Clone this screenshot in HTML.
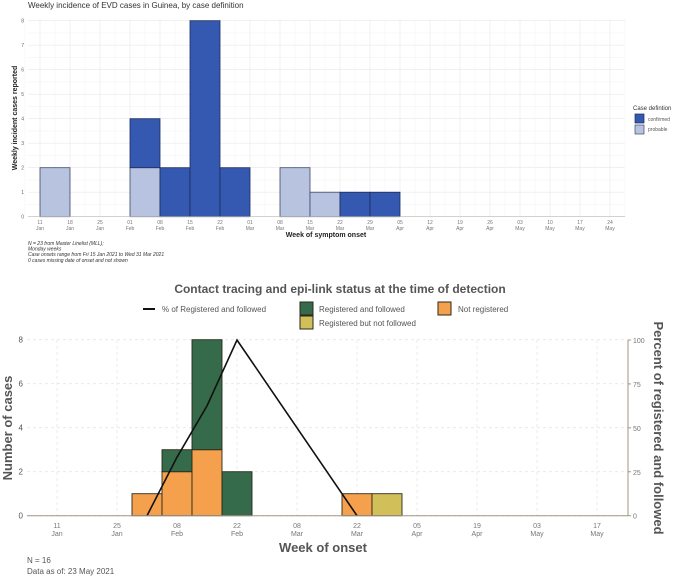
<!DOCTYPE html>
<html><head><meta charset="utf-8">
<style>
body{margin:0;background:#fff;}
svg{display:block;font-family:"Liberation Sans",sans-serif;}
</style></head>
<body>
<svg id="s" width="676" height="578" viewBox="0 0 676 578">
<text x="28" y="8" font-size="8" fill="#333">Weekly incidence of EVD cases in Guinea, by case definition</text>
<g id="top"></g>
<g id="bot"></g>
</svg>
<script>
// ---- Top chart data ----
const topWeeks = ["11 Jan","18 Jan","25 Jan","01 Feb","08 Feb","15 Feb","22 Feb","01 Mar","08 Mar","15 Mar","22 Mar","29 Mar","05 Apr","12 Apr","19 Apr","26 Apr","03 May","10 May","17 May","24 May"];
const topConfirmed = [0,0,0,2,2,8,2,0,0,0,1,1,0,0,0,0,0,0,0,0];
const topProbable  = [2,0,0,2,0,0,0,0,2,1,0,0,0,0,0,0,0,0,0,0];
const topYTicks = [0,1,2,3,4,5,6,7,8];
// ---- Bottom chart data ----
const botTicks = ["11 Jan","25 Jan","08 Feb","22 Feb","08 Mar","22 Mar","05 Apr","19 Apr","03 May","17 May"];
const botBarWeeks = [2.5,3.5,4.5,5.5,9.5,10.5]; // week index (0 = 11 Jan) of bar start
const botFollowed = [0,1,5,2,0,0];
const botNotReg   = [1,2,3,0,1,0];
const botNotFollowed = [0,0,0,0,0,1];
const pctWeeks = [2.5,3.5,4.5,5.5,9.5];
const pctValues = [0,33.3,62.5,100,0];
const botYTicks = [0,2,4,6,8];
const pctTicks = [0,25,50,75,100];

const NS="http://www.w3.org/2000/svg";
function mk(parent,tag,attrs,text){const e=document.createElementNS(NS,tag);for(const k in attrs)e.setAttribute(k,attrs[k]);if(text!==undefined)e.textContent=text;parent.appendChild(e);return e;}

// ===== TOP =====
const T=document.getElementById('top');
const tx=i=>40+30*i, ty=v=>216.7-24.5*v;
for(let v=0;v<=8;v+=0.5){const g=mk(T,'line',{x1:28,x2:625,y1:ty(v),y2:ty(v),stroke:v%1?'#f4f4f4':'#e8e8e8','stroke-width':0.6});
}
for(let i=-0.5;i<=19.5;i+=0.5){const g=mk(T,'line',{x1:tx(i),x2:tx(i),y1:19,y2:216.7,stroke:i%1?'#f4f4f4':'#e8e8e8','stroke-width':0.6});
}
topYTicks.forEach(v=>{const t=mk(T,'text',{x:24,y:ty(v)+2,'font-size':5,fill:'#666','text-anchor':'end'},v);
});
topWeeks.forEach((w,i)=>{const [d,m]=w.split(' ');
const t=mk(T,'text',{x:tx(i),y:224,'font-size':5,fill:'#777','text-anchor':'middle'},d);

const t2=mk(T,'text',{x:tx(i),y:230,'font-size':5,fill:'#777','text-anchor':'middle'},m);
});
topWeeks.forEach((w,i)=>{
 if(topProbable[i]>0){const r=mk(T,'rect',{x:tx(i),y:ty(topProbable[i]),width:30,height:ty(0)-ty(topProbable[i]),fill:'#b8c3e0',stroke:'#3a4a6a','stroke-width':0.8});
 }
 if(topConfirmed[i]>0){const b=topProbable[i];const r=mk(T,'rect',{x:tx(i),y:ty(b+topConfirmed[i]),width:30,height:ty(b)-ty(b+topConfirmed[i]),fill:'#3558b0',stroke:'#1c2c5a','stroke-width':0.8});
 }
});
mk(T,'line',{x1:28,x2:625,y1:ty(0),y2:ty(0),stroke:'#bbb','stroke-width':0.6});
mk(T,'text',{x:17,y:118,'font-size':7,'font-weight':'bold',fill:'#222','text-anchor':'middle',transform:'rotate(-90 17 118)',},'Weekly incident cases reported');
mk(T,'text',{x:326,y:237,'font-size':7,'font-weight':'bold',fill:'#222','text-anchor':'middle',},'Week of symptom onset');
const notes=["N = 23 from Master Linelist (MLL);","Monday weeks","Case onsets range from Fri 15 Jan 2021 to Wed 31 Mar 2021","0 cases missing date of onset and not shown"];
notes.forEach((n,i)=>{const t=mk(T,'text',{x:28,y:245+5.6*i,'font-size':5,'font-style':'italic',fill:'#333'},n);
});
mk(T,'text',{x:633,y:110,'font-size':6,fill:'#333',},'Case defintion');
mk(T,'rect',{x:635,y:114,width:9,height:9,fill:'#3558b0',stroke:'#1c2c5a','stroke-width':0.7,});
mk(T,'text',{x:648,y:121,'font-size':5,fill:'#555',},'confirmed');
mk(T,'rect',{x:635,y:125,width:9,height:9,fill:'#b8c3e0',stroke:'#3a4a6a','stroke-width':0.7,});
mk(T,'text',{x:648,y:131,'font-size':5,fill:'#555',},'probable');

// ===== BOTTOM =====
const B=document.getElementById('bot');
const bx=w=>57+30*w, by=v=>515.7-22*v, py=p=>515.7-1.757*p;
botYTicks.forEach(v=>{const g=mk(B,'line',{x1:27,x2:628,y1:by(v),y2:by(v),stroke:'#e6e6e6','stroke-dasharray':'3,3','stroke-width':0.8});

const t=mk(B,'text',{x:23,y:by(v)+3,'font-size':8,fill:'#555','text-anchor':'end'},v);
});
botTicks.forEach((w,i)=>{const x=bx(2*i);const [d,m]=w.split(' ');
const g=mk(B,'line',{x1:x,x2:x,y1:340,y2:515.7,stroke:'#e6e6e6','stroke-dasharray':'3,3','stroke-width':0.8});

const t=mk(B,'text',{x:x,y:528,'font-size':7,fill:'#777','text-anchor':'middle'},d);

const t2=mk(B,'text',{x:x,y:536,'font-size':7,fill:'#777','text-anchor':'middle'},m);
});
botBarWeeks.forEach((w,i)=>{let base=0;
 [[botNotReg,'#f5a04c','bar-not-registered'],[botFollowed,'#356b4a','bar-registered-followed'],[botNotFollowed,'#d1bf5a','bar-registered-not-followed']].forEach(([arr,c,n])=>{
  const v=arr[i]; if(v>0){const r=mk(B,'rect',{x:bx(w),y:by(base+v),width:30,height:by(base)-by(base+v),fill:c,stroke:'#2a2a1a','stroke-width':0.9});
  base+=v;}});
});
const pts=pctWeeks.map((w,i)=>(bx(w)+15)+','+py(pctValues[i])).join(' ');
const pl=mk(B,'polyline',{points:pts,fill:'none',stroke:'#111','stroke-width':1.6});

mk(B,'line',{x1:27,x2:628,y1:515.7,y2:515.7,stroke:'#a09585','stroke-width':1});
mk(B,'line',{x1:628,x2:628,y1:340,y2:515.7,stroke:'#a09585','stroke-width':1});
pctTicks.forEach(p=>{mk(B,'line',{x1:628,x2:631,y1:py(p),y2:py(p),stroke:'#a09585'});
const t=mk(B,'text',{x:633,y:py(p)+3,'font-size':7,fill:'#777'},p);
});
mk(B,'text',{x:340,y:293,'font-size':12,'font-weight':'bold',fill:'#555','text-anchor':'middle',},'Contact tracing and epi-link status at the time of detection');
mk(B,'line',{x1:143,x2:155,y1:309,y2:309,stroke:'#111','stroke-width':2});
mk(B,'text',{x:162,y:312,'font-size':8,fill:'#555',},'% of Registered and followed');
mk(B,'rect',{x:300,y:302,width:13,height:13,fill:'#356b4a',stroke:'#2a2a1a',});
mk(B,'text',{x:319,y:312,'font-size':8,fill:'#555',},'Registered and followed');
mk(B,'rect',{x:300,y:316,width:13,height:13,fill:'#d1bf5a',stroke:'#2a2a1a',});
mk(B,'text',{x:319,y:326,'font-size':8,fill:'#555',},'Registered but not followed');
mk(B,'rect',{x:438,y:302,width:13,height:13,fill:'#f5a04c',stroke:'#2a2a1a',});
mk(B,'text',{x:458,y:312,'font-size':8,fill:'#555',},'Not registered');
mk(B,'text',{x:12,y:428,'font-size':13,'font-weight':'bold',fill:'#555','text-anchor':'middle',transform:'rotate(-90 12 428)',},'Number of cases');
mk(B,'text',{x:654,y:428,'font-size':13,'font-weight':'bold',fill:'#555','text-anchor':'middle',transform:'rotate(90 654 428)',},'Percent of registered and followed');
mk(B,'text',{x:323,y:552,'font-size':13,'font-weight':'bold',fill:'#555','text-anchor':'middle',},'Week of onset');
mk(B,'text',{x:27,y:563,'font-size':8,fill:'#555',},'N = 16');
mk(B,'text',{x:27,y:574,'font-size':8,fill:'#555',},'Data as of: 23 May 2021');
</script>
</body></html>
